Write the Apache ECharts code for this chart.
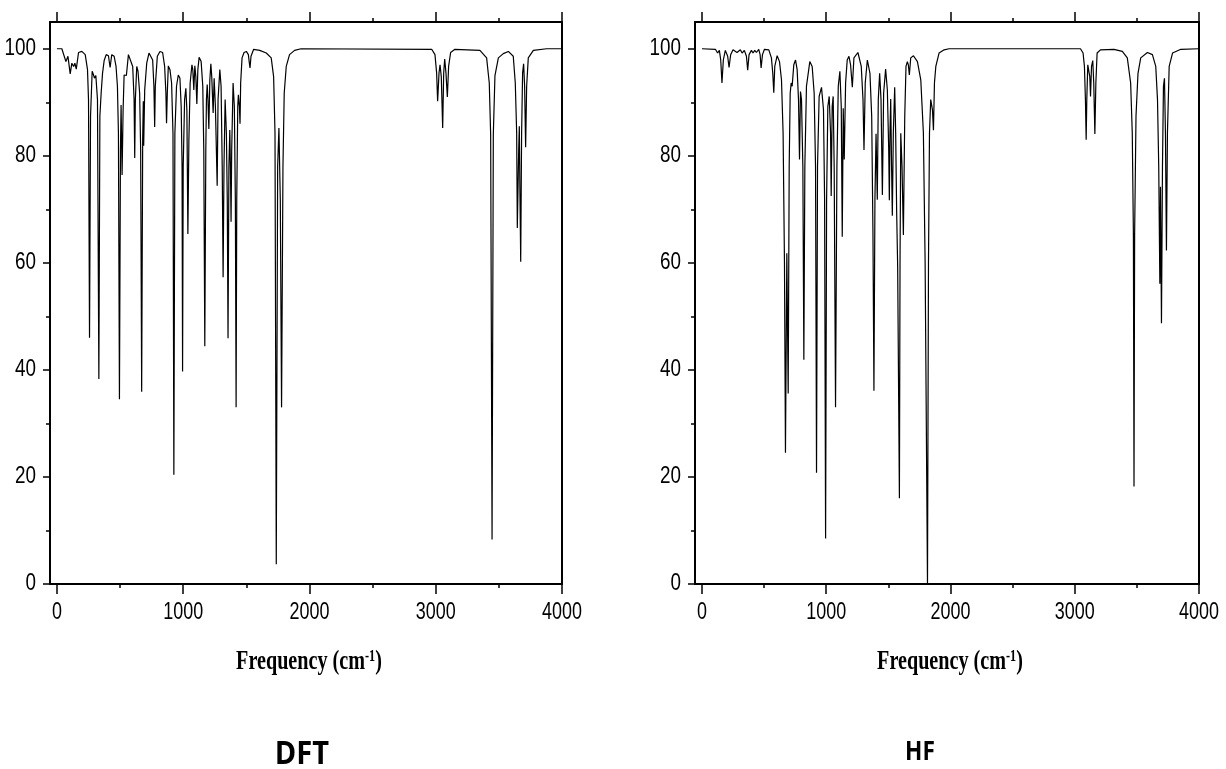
<!DOCTYPE html>
<html>
<head>
<meta charset="utf-8">
<script src="https://cdn.jsdelivr.net/npm/echarts@6/dist/echarts.min.js"></script>
<style>
  html, body { margin: 0; padding: 0; background: #fff; }
  #main { width: 1226px; height: 769px; }
</style>
</head>
<body>
<div id="main"></div>
<script>
// tick positions
var xTicks = [0, 1000, 2000, 3000, 4000];
var xMinorTicks = [500, 1500, 2500, 3500];
var yTicks = [0, 20, 40, 60, 80, 100];
var yMinorTicks = [10, 30, 50, 70, 90];

var panelNames = ['DFT', 'HF'];

// [frequency (cm-1), transmittance %]
var dftSpectrum = [
  [0,100],[39,100],[53,99.8],[71,97.6],[87,98.6],[105,95.3],[118,97.3],[132,96.7],[142,97.3],[153,96.2],
  [171,99.3],[197,99.5],[224,98.9],[242,96.1],[250,90.5],[258,46.0],[266,87.4],[279,95.8],[290,95.1],
  [297,94.5],[308,95.0],[321,90.5],[332,38.3],[340,87.4],[350,91.7],[361,95.4],[374,97.8],[390,98.9],
  [408,98.7],[421,96.5],[434,98.9],[453,98.6],[468,96.7],[479,93.0],[487,84.2],[495,34.5],[503,81.1],
  [508,89.5],[516,76.4],[524,88.6],[532,95.1],[542,95.3],[550,95.0],[566,98.9],[579,98.7],[600,96.7],
  [611,90.5],[616,79.6],[621,90.5],[632,96.7],[642,95.8],[655,91.7],[663,81.1],[671,35.9],[679,83.0],
  [684,90.2],[687,81.9],[695,92.3],[711,97.3],[729,99.2],[742,99.2],[758,97.9],[768,93.0],[774,85.4],
  [779,93.0],[795,98.6],[816,99.5],[837,99.3],[853,96.7],[863,91.7],[868,86.1],[874,91.7],[882,96.8],
  [895,96.1],[908,93.6],[919,84.2],[926,20.4],[934,84.2],[947,93.0],[961,95.1],[974,94.5],[984,89.2],
  [991,78.0],[995,39.7],[1000,78.0],[1011,90.5],[1021,92.6],[1029,88.6],[1037,65.4],[1045,83.0],
  [1055,93.6],[1069,97.0],[1076,96.1],[1084,92.3],[1092,96.8],[1100,94.8],[1108,89.7],[1116,96.1],
  [1126,98.4],[1142,97.6],[1155,93.0],[1163,81.1],[1171,44.4],[1179,81.1],[1184,90.5],[1190,93.3],
  [1196,90.5],[1203,85.0],[1211,94.2],[1219,97.2],[1226,94.8],[1237,88.0],[1245,94.5],[1255,89.2],
  [1269,74.4],[1276,90.5],[1290,96.1],[1300,93.0],[1309,78.0],[1316,57.3],[1323,78.0],[1332,90.5],
  [1342,84.2],[1349,71.8],[1355,45.9],[1362,78.0],[1369,84.8],[1374,78.0],[1379,67.7],[1384,81.1],
  [1395,93.6],[1405,89.2],[1413,71.8],[1419,33.0],[1424,71.8],[1432,89.2],[1437,91.4],[1445,89.2],
  [1450,86.0],[1455,93.6],[1466,98.3],[1482,99.3],[1500,99.5],[1516,98.9],[1524,97.3],[1529,96.4],
  [1537,98.6],[1558,99.9],[1606,99.7],[1658,99.2],[1697,98.3],[1716,94.8],[1727,84.2],[1737,3.7],
  [1748,78.0],[1758,85.2],[1769,71.8],[1779,33.0],[1790,78.0],[1800,91.7],[1816,96.7],[1842,98.9],
  [1882,99.7],[1934,100],[2968,99.9],[2994,98.9],[3007,95.5],[3015,90.2],[3026,95.5],[3034,97.0],
  [3044,94.8],[3055,85.2],[3063,95.5],[3071,98.1],[3081,95.5],[3092,91.0],[3102,96.7],[3118,99.3],
  [3152,99.9],[3350,99.7],[3403,98.3],[3424,93.6],[3435,84.0],[3446,8.3],[3456,84.0],[3469,95.0],
  [3496,98.3],[3535,99.1],[3575,99.5],[3614,98.6],[3630,93.6],[3641,84.2],[3646,66.5],[3657,81.0],
  [3662,85.5],[3667,73.0],[3673,60.2],[3680,84.0],[3688,95.5],[3696,97.2],[3704,93.0],[3712,81.6],
  [3720,93.0],[3733,98.3],[3773,99.7],[3878,100],[4000,100]
];

var hfSpectrum = [
  [0,100],[108,99.9],[126,99.2],[140,99.7],[151,97.9],[161,93.6],[172,97.9],[188,99.7],[207,98.6],
  [218,96.5],[231,98.9],[250,99.8],[282,99.3],[309,99.8],[323,99.2],[341,99.7],[358,98.6],[368,96.0],
  [379,98.9],[398,99.7],[411,99.2],[425,99.7],[438,99.3],[457,99.9],[468,98.9],[476,96.4],[487,98.9],
  [503,99.9],[538,99.8],[559,98.3],[570,95.4],[578,91.8],[586,96.7],[605,98.7],[624,97.6],[640,94.2],
  [653,84.2],[664,60.0],[672,24.5],[683,61.8],[694,35.6],[702,78.0],[710,91.7],[718,93.6],[726,93.0],
  [739,97.0],[753,97.9],[766,96.1],[777,90.5],[785,79.3],[793,92.0],[801,90.5],[812,78.0],[820,41.9],
  [828,78.0],[841,93.0],[868,97.6],[887,96.7],[903,91.7],[914,78.0],[922,20.8],[930,78.0],[943,91.1],
  [962,92.8],[978,88.6],[987,71.8],[995,8.5],[1003,71.8],[1013,89.2],[1024,91.1],[1035,84.2],
  [1040,72.5],[1048,89.2],[1056,91.1],[1064,78.0],[1075,33.0],[1086,78.0],[1097,93.0],[1110,95.8],
  [1121,89.2],[1129,64.9],[1137,88.9],[1145,79.3],[1156,93.6],[1169,97.9],[1183,98.6],[1196,97.0],
  [1210,92.8],[1223,98.3],[1255,99.3],[1282,96.7],[1296,90.5],[1304,81.1],[1314,93.6],[1331,97.9],
  [1352,95.4],[1366,87.4],[1376,65.8],[1384,36.1],[1392,71.8],[1401,84.1],[1406,78.0],[1411,71.8],
  [1419,90.5],[1430,95.4],[1441,90.5],[1452,72.7],[1462,91.7],[1478,96.2],[1492,92.3],[1503,81.1],
  [1508,71.7],[1513,84.2],[1519,90.6],[1526,78.0],[1532,68.8],[1540,84.2],[1551,92.8],[1559,84.2],
  [1567,69.3],[1575,59.3],[1589,16.0],[1594,60.0],[1600,84.2],[1610,78.0],[1621,65.2],[1632,87.4],
  [1642,96.7],[1653,97.6],[1661,97.0],[1669,95.1],[1680,98.3],[1702,98.7],[1734,97.6],[1761,94.2],
  [1782,84.2],[1796,60.0],[1815,0],[1823,60.0],[1831,84.2],[1841,90.5],[1847,90.6],[1855,88.6],
  [1863,84.8],[1871,93.6],[1882,96.7],[1908,99.2],[1949,99.8],[1989,100],[3046,100],[3067,99.2],
  [3078,96.7],[3086,90.5],[3092,83.0],[3097,90.5],[3105,97.0],[3113,97.3],[3121,94.8],[3127,91.1],
  [3135,96.7],[3145,97.8],[3153,93.6],[3162,84.1],[3170,93.6],[3180,99.2],[3207,99.8],[3315,99.9],
  [3383,99.5],[3423,98.3],[3450,93.6],[3463,84.2],[3472,65.5],[3477,18.2],[3482,65.5],[3493,87.4],
  [3509,95.4],[3531,98.3],[3585,99.3],[3625,98.9],[3652,96.7],[3666,90.5],[3676,78.0],[3685,56.1],
  [3690,74.2],[3698,48.7],[3706,78.0],[3714,93.0],[3722,94.5],[3730,84.2],[3738,62.3],[3746,84.2],
  [3760,96.7],[3787,99.2],[3854,99.9],[4000,100]
];

var black = '#000';
var tickFont = "23px 'Liberation Sans', Arial, sans-serif";
var serif = "'Liberation Serif', 'Times New Roman', serif";

function xAxes(grid, xmin) {
  function mk(pos, ticks, len, line) {
    return {
      gridIndex: grid, type: 'value', min: xmin, max: 4000, position: pos,
      splitLine: { show: false },
      axisLine: { show: line, onZero: false, lineStyle: { color: black, width: 2 } },
      axisTick: { show: true, customValues: ticks, length: len, lineStyle: { color: black, width: 1.5 } },
      axisLabel: { show: false }
    };
  }
  return [
    mk('bottom', xTicks, 10, true),
    mk('bottom', xMinorTicks, 4, false),
    mk('top', xTicks, 10, true),
    mk('top', xMinorTicks, 4, false)
  ];
}

function yAxes(grid) {
  function mk(pos, ticks, len, line) {
    return {
      gridIndex: grid, type: 'value', min: 0, max: 105, position: pos,
      splitLine: { show: false },
      axisLine: { show: line, onZero: false, lineStyle: { color: black, width: 2 } },
      axisTick: ticks ? { show: true, customValues: ticks, length: len, lineStyle: { color: black, width: 1.5 } } : { show: false },
      axisLabel: { show: false }
    };
  }
  return [
    mk('left', yTicks, 7, true),
    mk('left', yMinorTicks, 4, false),
    mk('right', null, 0, true)
  ];
}

function freqLabel(x) {
  return {
    type: 'text', x: x, y: 662, scaleX: 0.72,
    style: {
      text: '{a|Frequency (cm}{s|-1}{a|)}',
      fill: black, align: 'center', verticalAlign: 'middle',
      rich: {
        a: { fontFamily: serif, fontWeight: 'bold', fontSize: 28, color: black },
        s: { fontFamily: serif, fontWeight: 'bold', fontSize: 17, color: black, verticalAlign: 'top' }
      }
    }
  };
}

var chart = echarts.init(document.getElementById('main'), null, { renderer: 'canvas' });

chart.setOption({
  backgroundColor: '#fff',
  animation: false,
  grid: [
    { left: 50, top: 22, width: 512, height: 562 },
    { left: 695, top: 22, width: 504, height: 562 }
  ],
  xAxis: xAxes(0, -55).concat(xAxes(1, -56)),
  yAxis: yAxes(0).concat(yAxes(1)),
  series: [
    {
      name: panelNames[0], type: 'line', xAxisIndex: 0, yAxisIndex: 0,
      data: dftSpectrum, showSymbol: false, symbol: 'none', smooth: false, clip: true,
      lineStyle: { color: black, width: 1.2 }
    },
    {
      name: panelNames[1], type: 'line', xAxisIndex: 4, yAxisIndex: 3,
      data: hfSpectrum, showSymbol: false, symbol: 'none', smooth: false, clip: true,
      lineStyle: { color: black, width: 1.2 }
    }
  ]
});

// axis titles and panel captions
var graphics = [
  freqLabel(309),
  freqLabel(950),
  {
    type: 'text', x: 302, y: 755, scaleX: 0.88,
    style: {
      text: panelNames[0], fill: black, align: 'center', verticalAlign: 'middle',
      font: "bold 33px 'Open Sans', 'Noto Sans', sans-serif"
    }
  },
  {
    type: 'text', x: 920, y: 752, scaleX: 0.84,
    style: {
      text: panelNames[1], fill: black, align: 'center', verticalAlign: 'middle',
      font: "bold 27px 'Open Sans', 'Noto Sans', sans-serif"
    }
  }
];

// tick labels: placed at the axes' own pixel positions, drawn condensed like the original
[{ x: 0, y: 0, min: -55 }, { x: 4, y: 3, min: -56 }].forEach(function (ax) {
  var left = chart.convertToPixel({ xAxisIndex: ax.x }, ax.min);
  xTicks.forEach(function (v) {
    graphics.push({
      type: 'text', x: chart.convertToPixel({ xAxisIndex: ax.x }, v), y: 613, scaleX: 0.78,
      style: { text: String(v), fill: black, align: 'center', verticalAlign: 'middle', font: tickFont }
    });
  });
  yTicks.forEach(function (v) {
    graphics.push({
      type: 'text', x: left - 14, y: chart.convertToPixel({ yAxisIndex: ax.y }, v), scaleX: 0.82,
      style: { text: String(v), fill: black, align: 'right', verticalAlign: 'middle', font: tickFont }
    });
  });
});

chart.setOption({ graphic: graphics });
</script>
</body>
</html>
